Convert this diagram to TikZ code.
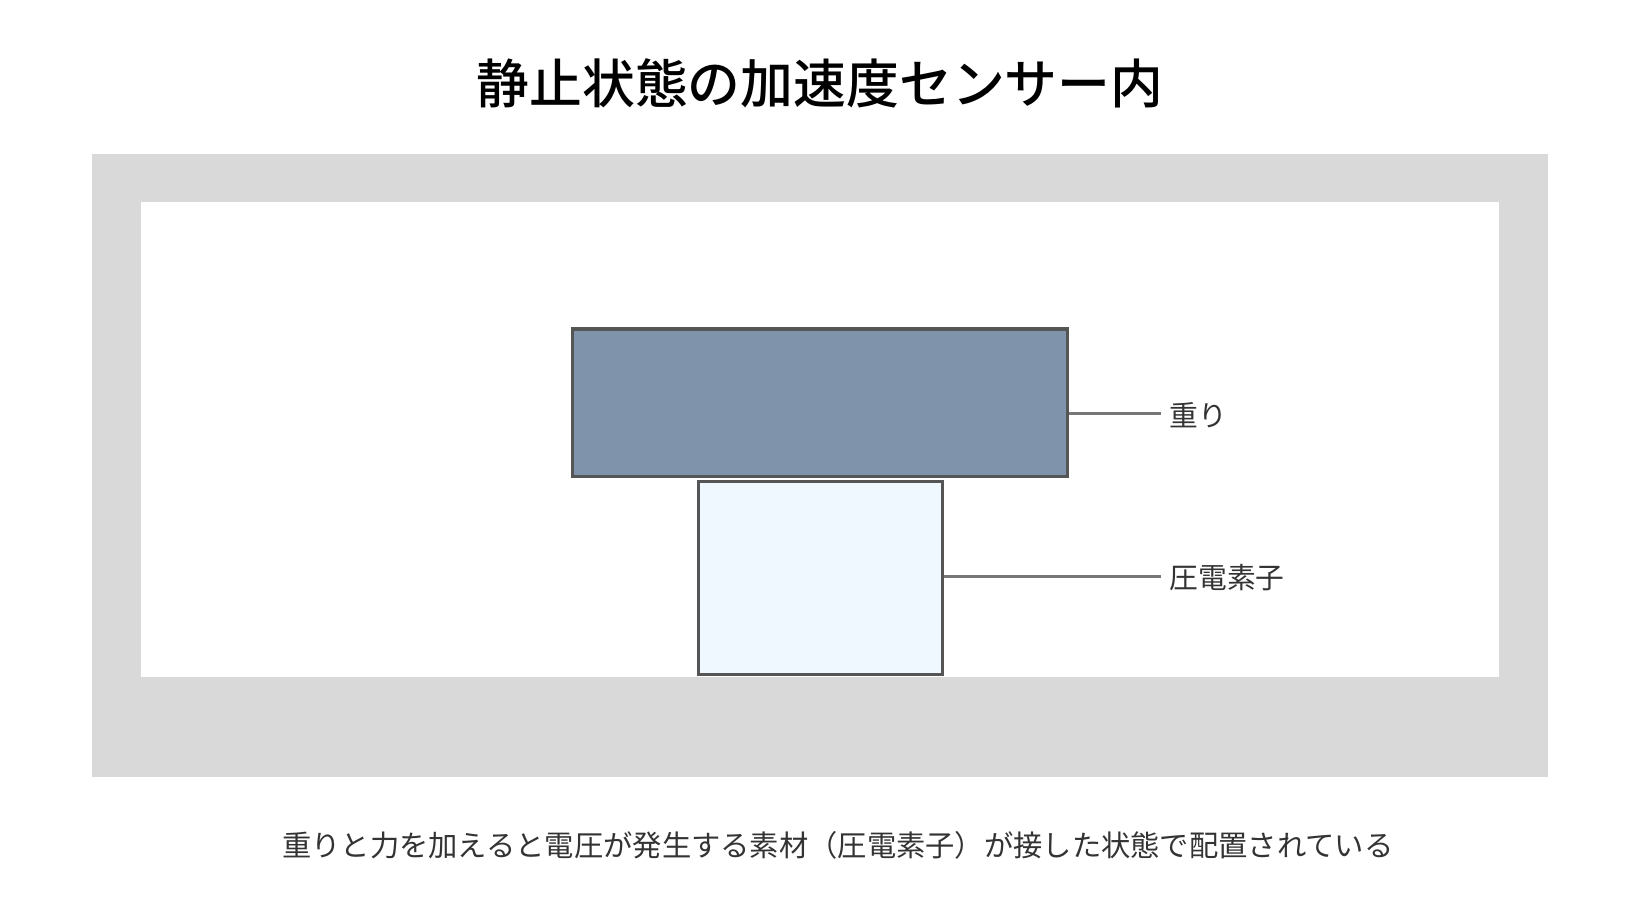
\documentclass[tikz,border=0pt]{standalone}
\usepackage{fontspec}
\setmainfont{Noto Sans CJK JP}
\IfFontExistsTF{Noto Sans CJK JP Medium}
  {\newfontfamily\titlefont{Noto Sans CJK JP Medium}}
  {\newcommand\titlefont{\bfseries}}
\usetikzlibrary{positioning}

\definecolor{housing}{HTML}{D9D9D9}
\definecolor{massfill}{HTML}{7F93AB}
\definecolor{piezofill}{HTML}{EFF8FE}
\definecolor{edgegray}{HTML}{555555}
\definecolor{leadgray}{HTML}{777777}
\definecolor{textgray}{HTML}{333333}

\begin{document}
\begin{tikzpicture}[x=1pt,y=-1pt,semithick]

\useasboundingbox (0,0) rectangle (1568,880);

% housing
\fill [housing] (88,147) rectangle (1480,743);
\fill [white] (135,193) rectangle (1433,647);

\node (title) at (784,80) [font=\fontsize{50.5}{58}\titlefont] {静止状態の加速度センサー内};

\node (weight) at (546,313) [minimum width=473pt, minimum height=141pt, anchor=north west, draw=edgegray, line width=3pt, fill=massfill] {};

\node (piezo) at (666,459) [minimum width=234pt, minimum height=184pt, anchor=north west, draw=edgegray, line width=3pt, fill=piezofill] {};

\node (weightlbl) at (1118,397) [anchor=west, text=textgray, font=\fontsize{27.5}{32}\selectfont, inner sep=0pt] {重り};
\node (piezolbl) at (1118,552) [anchor=west, text=textgray, font=\fontsize{27.5}{32}\selectfont, inner sep=0pt] {圧電素子};

\path [draw=leadgray, line width=3pt]
    (weight.east |- 0,395) edge (1110,395)
    (piezo.east |- 0,551) edge (1110,551)
;

\node (caption) at (801,808) [text=textgray, font=\fontsize{28}{33}\selectfont] {重りと力を加えると電圧が発生する素材（圧電素子）が接した状態で配置されている};

\end{tikzpicture}
\end{document}
